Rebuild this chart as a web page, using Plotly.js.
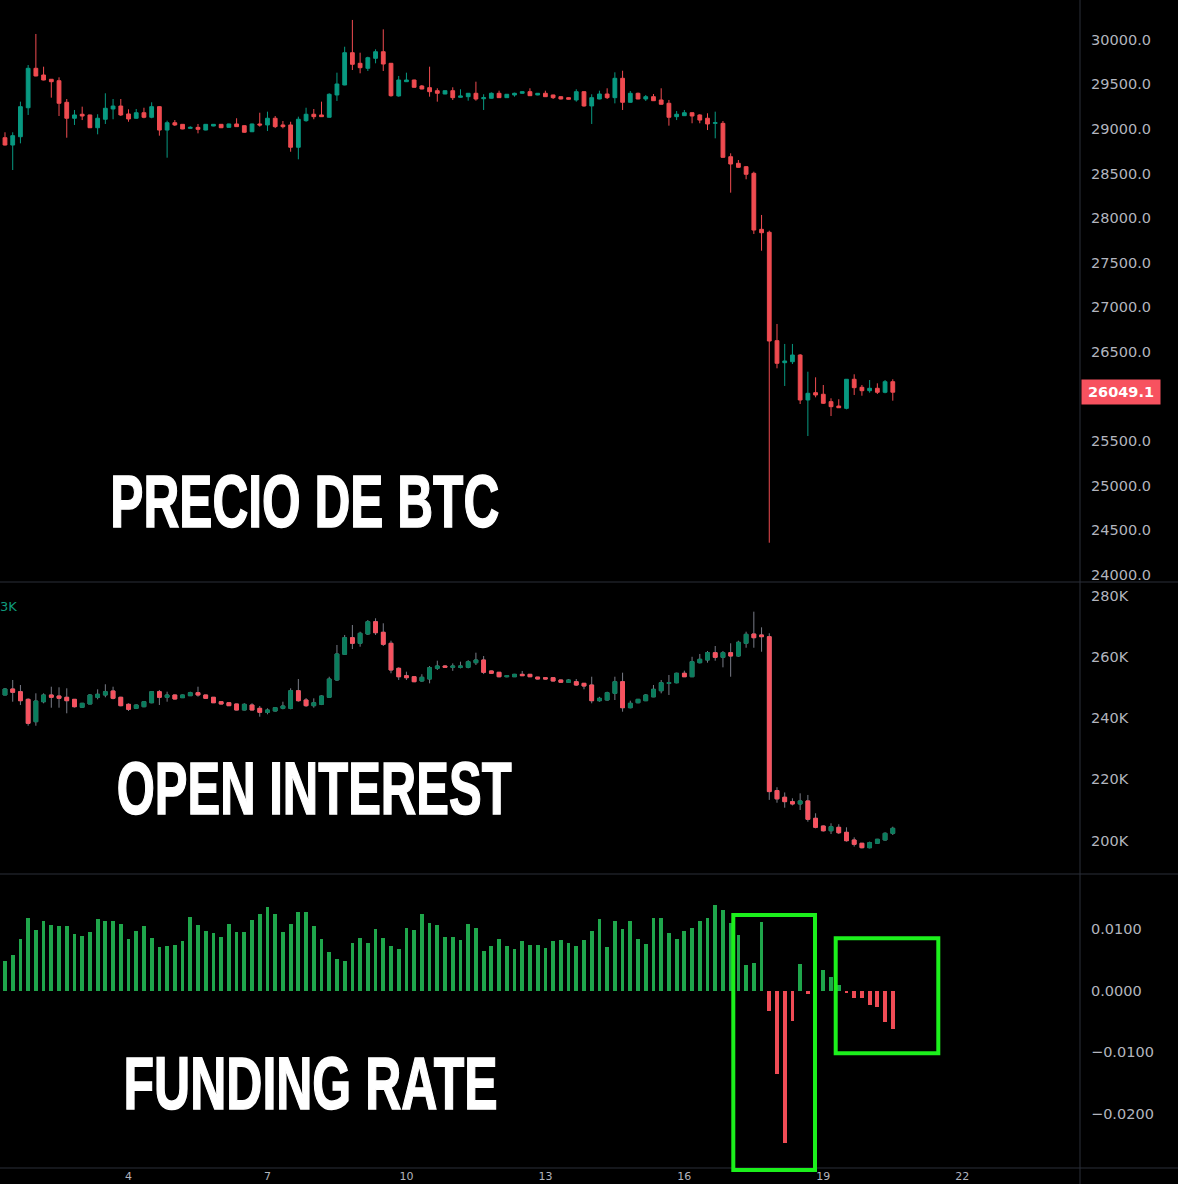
<!DOCTYPE html>
<html>
<head>
<meta charset="utf-8">
<script src="https://cdn.plot.ly/plotly-3.0.1.min.js"></script>
<style>
  html, body { margin: 0; padding: 0; background: #000; overflow: hidden; }
  #chart { width: 1178px; height: 1184px; }
</style>
</head>
<body>
<div id="chart"></div>
<script>
// ---- BTC price (4h candles, Aug 1 08:00 -> Aug 20 12:00, 2023) ----
var priceOpen = [28902,28820,28913,29238,29680,29605,29557,29541,29299,29120,29165,29157,29014,29109,29224,29257,29168,29120,29182,29131,
29250,28988,29070,29052,29007,29018,28988,29033,29052,29018,29056,29037,28969,29056,29045,29120,29045,29045,28795,29093,
29165,29157,29131,29381,29493,29855,29736,29680,29792,29866,29736,29370,29530,29549,29482,29463,29429,29392,29429,29355,
29362,29400,29339,29344,29400,29351,29381,29400,29418,29381,29400,29381,29362,29351,29325,29418,29258,29336,29392,29351,
29568,29299,29400,29336,29362,29325,29288,29138,29149,29182,29157,29120,29063,29063,28689,28615,28577,28503,27875,27842,
26627,26380,26391,26466,25962,26044,26026,25943,25894,25868,26194,26104,26066,26093,26048,26167];
var priceHigh = [28963,28963,29306,29717,30065,29698,29560,29579,29336,29213,29250,29160,29165,29400,29336,29336,29220,29224,29238,29299,
29255,29093,29100,29055,29030,29056,29055,29055,29055,29060,29120,29040,29060,29182,29194,29145,29089,29081,29138,29238,
29224,29306,29400,29631,29922,30222,29855,29810,29893,30117,29740,29594,29631,29552,29493,29698,29456,29432,29467,29445,
29403,29530,29389,29410,29429,29392,29407,29422,29456,29403,29429,29384,29366,29355,29445,29422,29389,29429,29456,29635,
29653,29425,29407,29381,29392,29456,29325,29201,29213,29185,29165,29176,29194,29089,28727,28652,28585,28521,28036,27860,
26814,26590,26590,26477,26279,26216,26130,25981,25970,26197,26250,26130,26186,26149,26186,26194];
var priceLow = [28815,28540,28839,29157,29590,29545,29351,29145,28902,29045,29100,29010,28940,29056,29109,29145,29081,29115,29120,29120,
28925,28678,29033,28997,29005,28951,28985,29030,29010,29015,29022,28958,28965,29026,28977,29010,29007,28745,28660,29081,
29109,29134,29128,29314,29490,29661,29624,29650,29736,29650,29362,29362,29528,29464,29445,29362,29306,29390,29325,29352,
29317,29317,29213,29340,29348,29348,29362,29397,29370,29378,29358,29336,29332,29330,29306,29250,29056,29333,29336,29287,
29213,29295,29333,29314,29314,29274,29037,29100,29145,29064,29064,28988,28895,28678,28286,28567,28436,27823,27635,24362,
26317,26119,26365,25917,25558,25992,25917,25782,25872,25857,26018,26010,26044,26029,26037,25954];
var priceClose = [28820,28925,29250,29680,29594,29549,29530,29288,29120,29157,29145,29014,29120,29232,29257,29157,29112,29182,29131,29250,
28988,29070,29045,29000,29018,28996,29052,29052,29014,29056,29026,28963,29056,29045,29120,29026,29026,28795,29109,29165,
29138,29138,29389,29504,29855,29725,29687,29799,29866,29728,29373,29549,29549,29467,29448,29418,29400,29429,29351,29370,
29400,29336,29351,29400,29351,29389,29400,29418,29373,29400,29362,29351,29336,29333,29418,29258,29351,29392,29351,29568,
29299,29400,29336,29362,29317,29277,29131,29165,29182,29145,29100,29056,29070,28682,28607,28570,28492,27867,27837,26623,
26373,26399,26466,25962,26037,26018,25925,25887,25875,26194,26100,26066,26093,26048,26167,26049.1];

// ---- Open interest (thousands) ----
var oiOpen = [247.60,249.56,248.68,246.18,238.86,245.40,247.60,247.27,246.85,246.18,243.57,244.65,246.85,247.60,248.91,246.85,244.55,243.24,243.77,245.07,
248.68,246.85,247.60,246.72,247.37,248.35,247.60,246.85,245.40,245.07,244.65,242.69,244.32,243.24,241.93,242.36,243.24,243.24,249.00,245.96,
244.10,244.55,246.85,252.51,260.92,266.35,264.52,267.56,271.59,268.12,264.52,256.33,253.91,253.58,252.18,252.83,256.33,257.09,256.66,256.66,
256.66,258.17,259.05,255.46,255.03,253.58,253.58,254.36,254.36,253.45,253.26,253.26,252.51,251.76,251.95,251.42,250.87,245.73,245.96,248.15,
251.95,243.44,245.07,245.73,247.00,249.00,251.42,251.61,254.70,253.58,258.17,259.05,261.44,259.93,261.44,260.36,264.52,267.56,267.24,266.68,
216.31,214.13,212.69,211.94,212.92,207.24,204.71,203.17,204.29,202.65,200.14,199.07,197.62,199.07,200.14,202.33];
var oiHigh = [249.89,252.51,250.87,246.51,248.15,248.15,250.31,250.12,249.79,246.20,245.00,247.90,249.46,251.10,250.31,247.00,244.88,244.50,245.60,248.90,
249.24,248.68,247.70,247.70,248.68,250.31,247.60,246.90,245.50,245.10,244.70,244.90,244.90,244.00,243.24,243.60,245.40,249.79,252.83,246.60,
246.51,247.50,253.58,263.97,267.24,270.51,268.31,272.14,272.70,271.07,265.37,256.66,255.22,253.70,254.40,257.09,258.82,257.40,257.95,258.50,
259.00,261.44,260.36,255.60,255.10,254.00,254.50,255.46,254.40,253.50,253.30,253.30,252.60,252.83,252.83,251.50,253.58,247.00,248.68,253.58,
254.90,245.73,246.30,247.90,250.87,252.51,254.15,254.90,255.55,260.10,261.02,262.00,263.63,262.00,264.52,265.37,268.31,274.87,269.74,267.79,
217.41,215.70,213.79,215.42,214.88,208.88,204.90,205.61,205.30,204.29,201.00,199.10,199.60,200.50,202.65,204.49];
var oiLow = [247.50,245.40,244.32,237.54,237.54,244.88,243.44,243.44,241.61,243.50,243.40,244.60,246.18,246.85,246.18,243.90,242.36,243.00,243.60,244.90,
244.32,245.40,246.20,246.60,247.27,247.05,246.30,245.00,244.60,244.00,242.60,242.60,242.60,240.50,241.28,242.20,242.91,242.91,245.40,243.70,
243.44,244.30,246.80,252.18,260.69,262.65,263.40,267.24,267.24,263.63,254.70,252.51,252.51,251.80,251.95,251.42,255.78,256.50,255.50,256.30,
256.33,257.42,254.45,254.50,253.40,253.40,253.50,253.80,253.50,252.70,252.70,252.10,251.60,251.70,250.60,249.46,244.88,245.40,245.73,245.96,
242.13,243.24,244.90,245.60,246.90,248.15,247.60,251.42,253.50,253.50,257.95,258.17,258.82,256.66,253.58,260.10,263.07,263.07,261.76,213.27,
212.34,210.71,211.45,209.95,206.13,203.96,202.90,202.10,202.10,199.60,197.99,197.40,197.40,198.90,199.92,201.77];
var oiClose = [249.56,248.48,245.73,238.33,245.63,247.60,246.85,246.52,245.73,243.77,244.88,247.60,247.83,248.68,246.52,244.10,242.91,244.32,245.40,248.68,
246.85,247.60,246.29,247.60,248.35,247.60,246.52,245.07,244.65,244.10,242.69,244.55,242.69,241.93,242.69,243.44,244.00,249.00,245.73,244.10,
245.07,247.27,252.83,261.02,266.35,264.52,267.79,271.59,267.99,264.19,255.78,253.58,253.26,251.95,253.39,256.53,257.09,256.66,257.09,257.09,
258.49,259.05,255.03,254.70,253.58,253.91,254.36,253.91,253.58,252.83,252.83,252.18,251.76,252.51,250.87,250.54,245.73,246.51,248.35,251.95,
243.44,244.88,246.18,247.60,249.46,251.61,251.61,254.70,253.58,258.49,259.28,261.44,259.93,261.44,260.36,264.85,267.46,266.35,266.68,215.98,
213.60,212.69,211.94,212.92,206.91,204.29,203.17,204.49,202.52,199.92,198.73,197.62,199.26,200.37,202.33,203.96];

// ---- Funding rate ----
var funding = [0.00479,0.00571,0.00831,0.01172,0.00982,0.01133,0.01058,0.01042,0.01042,0.00912,
0.00890,0.00945,0.01156,0.01133,0.01133,0.01079,0.00831,0.00966,0.01042,0.00852,
0.00706,0.00722,0.00744,0.00798,0.01188,0.01058,0.00966,0.00928,0.00868,0.01079,
0.00945,0.00945,0.01149,0.01242,0.01355,0.01242,0.00945,0.01079,0.01279,0.01279,
0.01042,0.00831,0.00630,0.00516,0.00479,0.00776,0.00852,0.00776,0.01003,0.00852,
0.00722,0.00669,0.01019,0.00982,0.01247,0.01096,0.01058,0.00868,0.00868,0.00815,
0.01079,0.01019,0.00646,0.00722,0.00831,0.00722,0.00669,0.00798,0.00744,0.00744,
0.00685,0.00798,0.00815,0.00776,0.00722,0.00815,0.00966,0.01156,0.00706,0.01133,
0.01003,0.01133,0.00831,0.00760,0.01172,0.01172,0.00928,0.00831,0.00966,0.01019,
0.01133,0.01172,0.01393,0.01302,0.01096,0.00906,0.00419,0.00442,0.01112,-0.00327,
-0.01355,-0.02481,-0.00495,0.00430,-0.00057,0,0.00333,0.00214,0.00089,-0.00046,
-0.00127,-0.00127,-0.00235,-0.00273,-0.00517,-0.00630];

// ---- Axis ticks (26000.0 is hidden under the last-price tag in the reference) ----
var priceTicks = [24000,24500,25000,25500,26500,27000,27500,28000,28500,29000,29500,30000];
var oiTicks = [200,220,240,260,280];
var oiTickText = ['200K','220K','240K','260K','280K'];
var fundingTicks = [-0.02,-0.01,0,0.01];
var lastPrice = priceClose[priceClose.length - 1];

// 4-hour candle times
function pad(n){ return (n < 10 ? '0' : '') + n; }
function fmt(ms){
  var d = new Date(ms);
  return d.getUTCFullYear() + '-' + pad(d.getUTCMonth()+1) + '-' + pad(d.getUTCDate()) + ' ' + pad(d.getUTCHours()) + ':' + pad(d.getUTCMinutes());
}
var t0 = Date.UTC(2023, 7, 1, 8, 0);
var times = priceOpen.map(function(_, i){ return fmt(t0 + i * 4 * 3600 * 1000); });

var UP = '#089981', DOWN = '#ef4b50';
var OI_UP = '#0a7d5d', OI_DOWN = '#f7525f', WICK = '#787b86';
var FR_UP = '#1fa64b', FR_DOWN = '#ef4b55';

var traces = [
  {
    type: 'candlestick', x: times, open: priceOpen, high: priceHigh, low: priceLow, close: priceClose,
    xaxis: 'x', yaxis: 'y',
    increasing: { line: { color: UP, width: 1 }, fillcolor: UP },
    decreasing: { line: { color: DOWN, width: 1 }, fillcolor: DOWN },
    hoverinfo: 'skip'
  },
  // OI wicks (grey)
  {
    type: 'candlestick', x: times, open: oiOpen, high: oiHigh, low: oiLow, close: oiClose,
    xaxis: 'x', yaxis: 'y2',
    increasing: { line: { color: WICK, width: 1 }, fillcolor: WICK },
    decreasing: { line: { color: WICK, width: 1 }, fillcolor: WICK },
    hoverinfo: 'skip'
  },
  // OI bodies (coloured)
  {
    type: 'candlestick', x: times, open: oiOpen, close: oiClose,
    high: oiOpen.map(function(o, i){ return Math.max(o, oiClose[i]); }),
    low: oiOpen.map(function(o, i){ return Math.min(o, oiClose[i]); }),
    xaxis: 'x', yaxis: 'y2',
    increasing: { line: { color: OI_UP, width: 1 }, fillcolor: OI_UP },
    decreasing: { line: { color: OI_DOWN, width: 1 }, fillcolor: OI_DOWN },
    hoverinfo: 'skip'
  },
  {
    type: 'bar', x: times, y: funding, xaxis: 'x', yaxis: 'y3',
    width: 7000000,
    marker: { color: funding.map(function(v){ return v >= 0 ? FR_UP : FR_DOWN; }), line: { width: 0 } },
    hoverinfo: 'skip'
  }
];

var GRID = '#2a2e39';
var NEON = '#1cf01c';
var axisFont = { family: 'DejaVu Sans, sans-serif', size: 14.5, color: '#b2b5be' };
var bigFont = { family: 'Liberation Sans Narrow, Liberation Sans, DejaVu Sans, sans-serif', size: 75, color: '#ffffff', weight: 'bold' };

var layout = {
  width: 1178, height: 1184,
  paper_bgcolor: '#000000', plot_bgcolor: '#000000',
  margin: { l: 0, r: 98, t: 0, b: 16, pad: 0 },
  showlegend: false,
  font: axisFont,
  bargap: 0,
  xaxis: {
    type: 'date', anchor: 'y3',
    range: ['2023-08-01 05:25', '2023-08-24 13:00'],
    rangeslider: { visible: false },
    showgrid: false, zeroline: false, showline: false, ticks: '',
    tick0: '2023-08-01', dtick: 3 * 86400000, tickformat: '%-d',
    tickfont: { family: 'DejaVu Sans, sans-serif', size: 11, color: '#b2b5be' },
    ticklabelstandoff: 0
  },
  yaxis: {
    domain: [0.50171, 1], anchor: 'x', side: 'right',
    range: [23921.5, 30445.75],
    tickvals: priceTicks, tickformat: '.1f',
    showgrid: false, zeroline: false, showline: false, ticks: '',
    tickfont: axisFont, ticklabelstandoff: 10
  },
  yaxis2: {
    domain: [0.25171, 0.50171], anchor: 'x', side: 'right',
    range: [189.01, 284.58],
    tickmode: 'array', tickvals: oiTicks, ticktext: oiTickText,
    showgrid: false, zeroline: false, showline: false, ticks: '',
    tickfont: axisFont, ticklabelstandoff: 10
  },
  yaxis3: {
    domain: [0, 0.25171], anchor: 'x', side: 'right',
    range: [-0.028815, 0.018913],
    tickvals: fundingTicks, tickformat: '.4f',
    showgrid: false, zeroline: false, showline: false, ticks: '',
    tickfont: axisFont, ticklabelstandoff: 10
  },
  shapes: [
    { type: 'line', xref: 'paper', yref: 'paper', x0: 0, x1: 1.0907, y0: 0.50171, y1: 0.50171, line: { color: GRID, width: 1 } },
    { type: 'line', xref: 'paper', yref: 'paper', x0: 0, x1: 1.0907, y0: 0.25171, y1: 0.25171, line: { color: GRID, width: 1 } },
    { type: 'line', xref: 'paper', yref: 'paper', x0: 0, x1: 1.0907, y0: 0, y1: 0, line: { color: GRID, width: 1 } },
    { type: 'line', xref: 'paper', yref: 'paper', x0: 1, x1: 1, y0: -0.0137, y1: 1, line: { color: GRID, width: 1 } },
    { type: 'rect', xref: 'paper', yref: 'paper', x0: 0.67898, x1: 0.75463, y0: -0.00171, y1: 0.21661, line: { color: NEON, width: 4 }, fillcolor: 'rgba(0,0,0,0)', layer: 'above' },
    { type: 'rect', xref: 'paper', yref: 'paper', x0: 0.77380, x1: 0.86880, y0: 0.09820, y1: 0.19666, line: { color: NEON, width: 4 }, fillcolor: 'rgba(0,0,0,0)', layer: 'above' }
  ],
  annotations: [
    { text: 'PRECIO DE BTC', xref: 'paper', yref: 'paper', x: 0.28287, y: 0.57106, xanchor: 'center', yanchor: 'middle', showarrow: false, font: bigFont },
    { text: 'OPEN INTEREST', xref: 'paper', yref: 'paper', x: 0.29028, y: 0.32577, xanchor: 'center', yanchor: 'middle', showarrow: false, font: bigFont },
    { text: 'FUNDING RATE', xref: 'paper', yref: 'paper', x: 0.28704, y: 0.07320, xanchor: 'center', yanchor: 'middle', showarrow: false, font: bigFont },
    { text: lastPrice.toFixed(1), xref: 'paper', yref: 'y', x: 1, y: lastPrice, xanchor: 'left', yanchor: 'middle', xshift: 1,
      showarrow: false, bgcolor: '#f7525f', borderpad: 4, width: 70, align: 'center',
      font: { family: 'DejaVu Sans, sans-serif', size: 14.5, color: '#ffffff', weight: 'bold' } },
    { text: '3K', xref: 'paper', yref: 'paper', x: 0, y: 0.48116, xanchor: 'left', yanchor: 'middle', xshift: -2, showarrow: false,
      font: { family: 'DejaVu Sans, sans-serif', size: 13, color: '#0f9a7c' } }
  ]
};

Plotly.newPlot('chart', traces, layout, { displayModeBar: false, staticPlot: true }).then(function(gd){
  var targets = { 'PRECIO DE BTC': 389, 'OPEN INTEREST': 395, 'FUNDING RATE': 374 };
  gd.querySelectorAll('text.annotation-text').forEach(function(t){
    var w = targets[t.textContent];
    if (w) {
      t.setAttribute('textLength', w);
      t.setAttribute('lengthAdjust', 'spacingAndGlyphs');
      t.style.stroke = '#ffffff';
      t.style.strokeWidth = '1.5px';
    }
  });
});
</script>
</body>
</html>
